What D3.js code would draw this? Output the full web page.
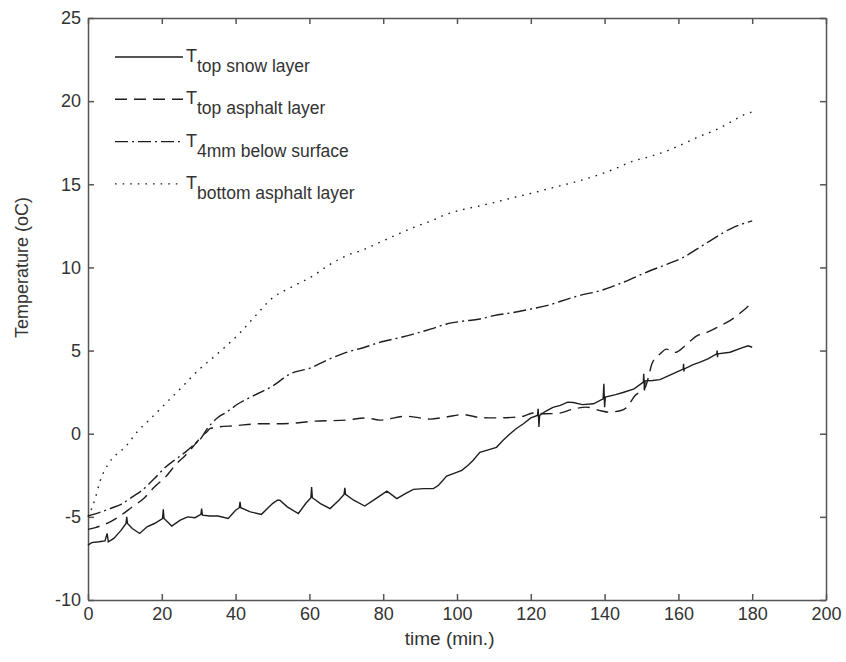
<!DOCTYPE html>
<html>
  <head>
    <meta charset="utf-8">
    <title>Temperature vs time</title>
    <style>
      body {margin:0; background:#fff;}
      svg {display:block;}
      text {font-family:"Liberation Sans", Arial, sans-serif; fill:#333;}
      .axis text {font-size:18px; fill:#333;}
      .axis path, .axis line {fill:none; stroke:#555; stroke-width:1.5px;}
      .series {fill:none; stroke:#1e1e1e; stroke-width:1.4px;}
      .lbl {font-size:18px;}
      .legT {font-size:18px;}
      .legSub {font-size:17.5px;}
    </style>
    <script src="https://cdn.jsdelivr.net/npm/d3@7"></script>
  </head>
  <body>
    <svg id="chart" width="846" height="662"></svg>
    <script>
      // T top snow layer
      var snowT = [0,1,3,4.6,5.2,5.5,7,9,10.3,10.5,10.7,12,14,16,18,20.2,20.4,20.6,22.7,25,27,29,30.6,30.8,31,33,35.2,38,40,41,41.2,41.4,44,47,50,51.3,52,54,57,59,60.4,60.6,60.8,63,65.6,68,69.4,69.6,69.8,72,75,78,81,83.7,86,88.2,91,93.6,95,97.2,99,101.3,103,104.4,106.2,108,110.7,112.5,114.4,116,118,120,121.8,122,122.2,122.4,124,126,128,130,131.5,134,137,139.6,139.8,140,140.2,143,145,148,150.5,150.6,150.8,151,153,155,158,161.3,161.4,161.5,161.6,164,165.9,168,170.4,170.5,170.6,170.7,174,177,178.9,180];
      var snowV = [-6.7,-6.55,-6.5,-6.45,-6.0,-6.5,-6.3,-5.8,-5.4,-5.0,-5.4,-5.7,-6.0,-5.6,-5.4,-5.1,-4.55,-5.1,-5.55,-5.2,-5.0,-5.05,-4.85,-4.5,-4.9,-4.95,-4.95,-5.1,-4.6,-4.45,-4.1,-4.45,-4.7,-4.85,-4.2,-4.0,-4.0,-4.4,-4.8,-4.2,-3.85,-3.2,-3.85,-4.2,-4.5,-4.0,-3.65,-3.25,-3.65,-4.0,-4.35,-3.9,-3.45,-3.9,-3.6,-3.35,-3.3,-3.3,-3.1,-2.55,-2.4,-2.2,-1.9,-1.6,-1.12,-1.0,-0.82,-0.4,0,0.3,0.6,0.95,1.1,1.5,0.4,1.1,1.35,1.58,1.7,1.9,1.88,1.75,1.8,2.1,3.0,1.6,2.2,2.35,2.48,2.7,3.1,3.6,2.6,3.18,3.2,3.25,3.55,3.89,4.2,3.75,3.9,4.15,4.3,4.5,4.8,5.0,4.6,4.8,4.9,5.15,5.29,5.2];

      // T top asphalt layer
      var asphT = [0,2,3.3,6,8.1,12,15.4,18,20.9,24,26.3,28,29.8,31,32.2,33,35,39.8,46.6,51,55,61,70,75.5,79,86.4,92.7,97,101.7,106,110,115,118,120.6,124,127.9,131,135,139,141,144.2,146,148.2,151,152,152.8,155,156.8,159.1,161.8,165,167.7,171.3,174,177,180];
      var asphV = [-5.75,-5.65,-5.55,-5.3,-5.03,-4.4,-3.83,-3.2,-2.63,-1.8,-1.32,-0.9,-0.42,-0.1,0.1,0.3,0.4,0.48,0.6,0.6,0.62,0.75,0.82,0.95,0.82,1.05,0.88,1.0,1.15,0.98,0.95,0.98,1.05,1.25,1.2,1.24,1.45,1.6,1.38,1.3,1.38,1.58,2.28,2.78,3.5,4.19,4.79,5.09,4.89,5.29,5.89,6.09,6.49,6.8,7.3,7.9];

      // T 4mm below surface
      var belowT = [0,3,6,9.1,12,14.5,18,20.9,24,26.3,28.5,30.8,32,35.2,37.6,40.7,45,50.2,54.7,60.2,65,70,75,79,84,88.2,93,97.2,101,106.2,110,115.3,120,124.3,127.9,133,138.8,145,152.3,157,161.3,165,168.6,174.8,180];
      var belowV = [-4.95,-4.75,-4.5,-4.23,-3.8,-3.43,-2.7,-2.03,-1.5,-1.12,-0.7,-0.22,0.2,0.98,1.3,1.8,2.3,2.89,3.59,3.95,4.45,4.89,5.2,5.49,5.75,5.99,6.3,6.6,6.75,6.9,7.1,7.29,7.5,7.7,7.95,8.3,8.6,9.1,9.8,10.2,10.6,11.1,11.6,12.4,12.8];

      // T bottom asphalt layer
      var bottomT = [0,1,1.9,3.3,5.5,7.8,10,11.8,13.6,15.9,18.2,20.4,25,29.8,34,41.2,45,50.2,55,61,65,70,75,79,84,88.2,93,97.2,101,106.2,110,115.3,120,126,133,138.8,143,147.8,152,156.8,161,165.9,170,173,178,180];
      var bottomV = [-5.0,-4.5,-3.93,-2.83,-1.82,-1.22,-0.82,-0.32,0.18,0.68,1.18,1.68,2.7,3.8,4.6,6.07,7.0,8.2,8.8,9.5,10.1,10.7,11.1,11.5,12.0,12.4,12.8,13.2,13.45,13.7,13.9,14.2,14.45,14.8,15.2,15.6,15.95,16.4,16.65,17.0,17.4,17.9,18.25,18.6,19.2,19.35];

      var xTicks = [0,20,40,60,80,100,120,140,160,180,200];
      var yTicks = [-10,-5,0,5,10,15,20,25];
      var names  = ["top snow layer","top asphalt layer","4mm below surface","bottom asphalt layer"];
      var dashes = ["none","12,7","13,4,2,4","1.6,6"];

      var svgWidth = 846, svgHeight = 662;
      var margin = {top: 18, right: 20, bottom: 62, left: 88};
      var w = svgWidth - margin.left - margin.right;
      var h = svgHeight - margin.top - margin.bottom;

      var svg = d3.select("#chart");
      var g = svg.append("g").attr("transform", "translate(" + margin.left + "," + margin.top + ")");

      var x = d3.scaleLinear().domain([0, 200]).range([0, w]);
      var y = d3.scaleLinear().domain([-10, 25]).range([h, 0]);
      var plain = function(d) {return String(d);};

      // axes with inward ticks on all four sides
      g.append("g").attr("class", "axis").attr("transform", "translate(0," + h + ")")
       .call(d3.axisBottom(x).tickValues(xTicks).tickFormat(plain).tickSizeInner(-6).tickSizeOuter(0).tickPadding(7));
      g.append("g").attr("class", "axis")
       .call(d3.axisLeft(y).tickValues(yTicks).tickFormat(plain).tickSizeInner(-6).tickSizeOuter(0).tickPadding(7));
      g.append("g").attr("class", "axis")
       .call(d3.axisTop(x).tickValues(xTicks).tickSizeInner(-6).tickSizeOuter(0).tickFormat(""));
      g.append("g").attr("class", "axis").attr("transform", "translate(" + w + ",0)")
       .call(d3.axisRight(y).tickValues(yTicks).tickSizeInner(-6).tickSizeOuter(0).tickFormat(""));

      var line = d3.line().x(function(d) {return x(d[0]);}).y(function(d) {return y(d[1]);});
      var smooth = d3.line().curve(d3.curveMonotoneX).x(function(d) {return x(d[0]);}).y(function(d) {return y(d[1]);});
      var series = [d3.zip(snowT, snowV), d3.zip(asphT, asphV), d3.zip(belowT, belowV), d3.zip(bottomT, bottomV)];

      g.selectAll(".series").data(series).enter()
       .append("path")
       .attr("class", "series")
       .attr("d", function(d, i) {return i == 0 ? line(d) : smooth(d);})
       .style("stroke-dasharray", function(d, i) {return dashes[i];});

      // legend
      var leg = g.selectAll(".leg").data(names).enter().append("g")
                 .attr("class", "leg")
                 .attr("transform", function(d, i) {return "translate(27," + (39 + i * 42.3) + ")";});
      leg.append("line").attr("class", "series")
         .attr("x1", 0).attr("x2", 68).attr("y1", 0).attr("y2", 0)
         .style("stroke-dasharray", function(d, i) {return dashes[i];});
      var lt = leg.append("text").attr("x", 71).attr("y", 5);
      lt.append("tspan").attr("class", "legT").text("T");
      lt.append("tspan").attr("class", "legSub").attr("dy", 10).text(function(d) {return d;});

      // axis labels
      g.append("text").attr("class", "lbl").attr("text-anchor", "middle")
       .attr("x", x(98)).attr("y", h + 45).style("font-size", "19px").text("time (min.)");
      g.append("text").attr("class", "lbl").attr("text-anchor", "middle")
       .attr("transform", "translate(-60," + y(10) + ") rotate(-90)").text("Temperature (oC)");
    </script>
  </body>
</html>
